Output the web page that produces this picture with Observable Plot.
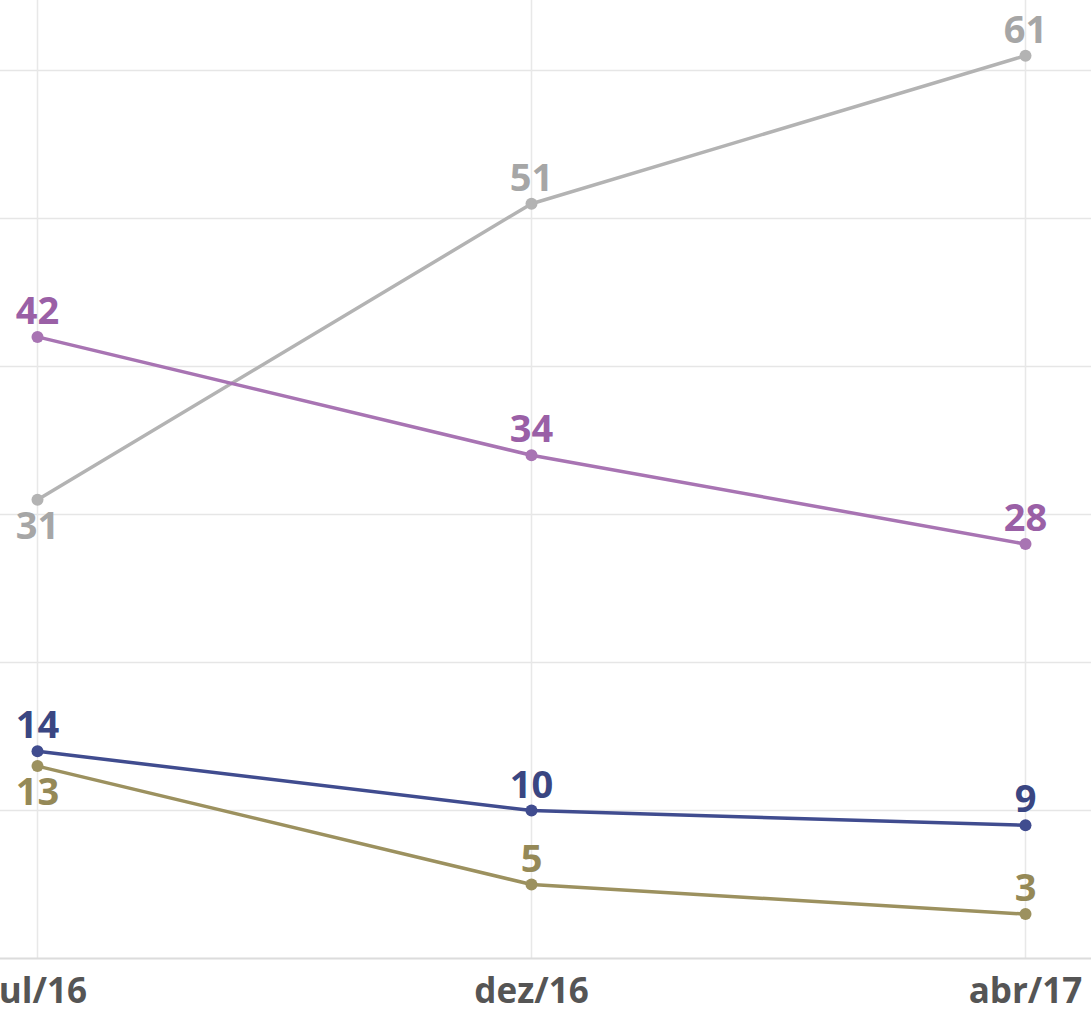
<!DOCTYPE html>
<html>
<head>
<meta charset="utf-8">
<script src="https://cdn.jsdelivr.net/npm/d3@7"></script>
<script src="https://cdn.jsdelivr.net/npm/@observablehq/plot@0.6"></script>
<style>
  html, body { margin: 0; padding: 0; background: #fff; }
  #chart svg { display: block; overflow: hidden; }
</style>
</head>
<body>
<div id="chart"></div>
<script>
const months = ["jul/16", "dez/16", "abr/17"];
const seriesNames = ["Ruim/péssimo", "Regular", "Ótimo/bom", "Não sabe"];
const ruimPessimo = [31, 51, 61];
const regular = [42, 34, 28];
const otimoBom = [14, 10, 9];
const naoSabe = [13, 5, 3];
const lineColors = ["#b3b3b3", "#a874b3", "#404c8f", "#9c915f"];
const labelColors = ["#a6a6a6", "#9a60a6", "#3a4682", "#958957"];
const yTicks = [10, 20, 30, 40, 50, 60];

const valuesBySeries = [ruimPessimo, regular, otimoBom, naoSabe];
const data = [];
seriesNames.forEach((s, i) => {
  months.forEach((m, j) => {
    data.push({series: s, month: m, value: valuesBySeries[i][j], idx: i, mi: j});
  });
});
// labels placed below the point where lines cross/crowd at the first month
const below = d => d.mi === 0 && (d.series === "Ruim/péssimo" || d.series === "Não sabe");

const chart = Plot.plot({
  width: 1091,
  height: 1012,
  marginLeft: 0,
  marginRight: 0,
  marginTop: 0,
  marginBottom: 54,
  style: {fontFamily: "'Open Sans', sans-serif", background: "#fff"},
  x: {type: "point", domain: months, range: [37, 1025], padding: 0},
  y: {domain: [0, 60], range: [958, 70]},
  color: {domain: seriesNames, range: lineColors},
  marks: [
    Plot.gridY(yTicks, {stroke: "#e6e6e6", strokeOpacity: 1, strokeWidth: 1.5}),
    Plot.gridX(months, {stroke: "#e8e8e8", strokeOpacity: 1, strokeWidth: 1.5}),
    Plot.ruleY([0], {stroke: "#dcdcdc", strokeWidth: 2}),
    Plot.lineY(data, {x: "month", y: "value", z: "series", stroke: "series", strokeWidth: 3.5}),
    Plot.dot(data, {x: "month", y: "value", fill: "series", r: 6, stroke: null}),
    Plot.text(data.filter(d => !below(d)), {
      x: "month", y: "value", text: d => String(d.value),
      fill: d => labelColors[d.idx], lineAnchor: "bottom", dy: -13,
      fontSize: 38, fontWeight: 700
    }),
    Plot.text(data.filter(below), {
      x: "month", y: "value", text: d => String(d.value),
      fill: d => labelColors[d.idx], lineAnchor: "top", dy: 12,
      fontSize: 38, fontWeight: 700
    }),
    Plot.axisX(months, {
      tickSize: 0, tickPadding: 20, fontSize: 35, fontWeight: 700,
      fill: "#555", label: null
    }),
    Plot.axisY({ticks: [], label: null})
  ]
});
document.getElementById("chart").append(chart);
</script>
</body>
</html>
